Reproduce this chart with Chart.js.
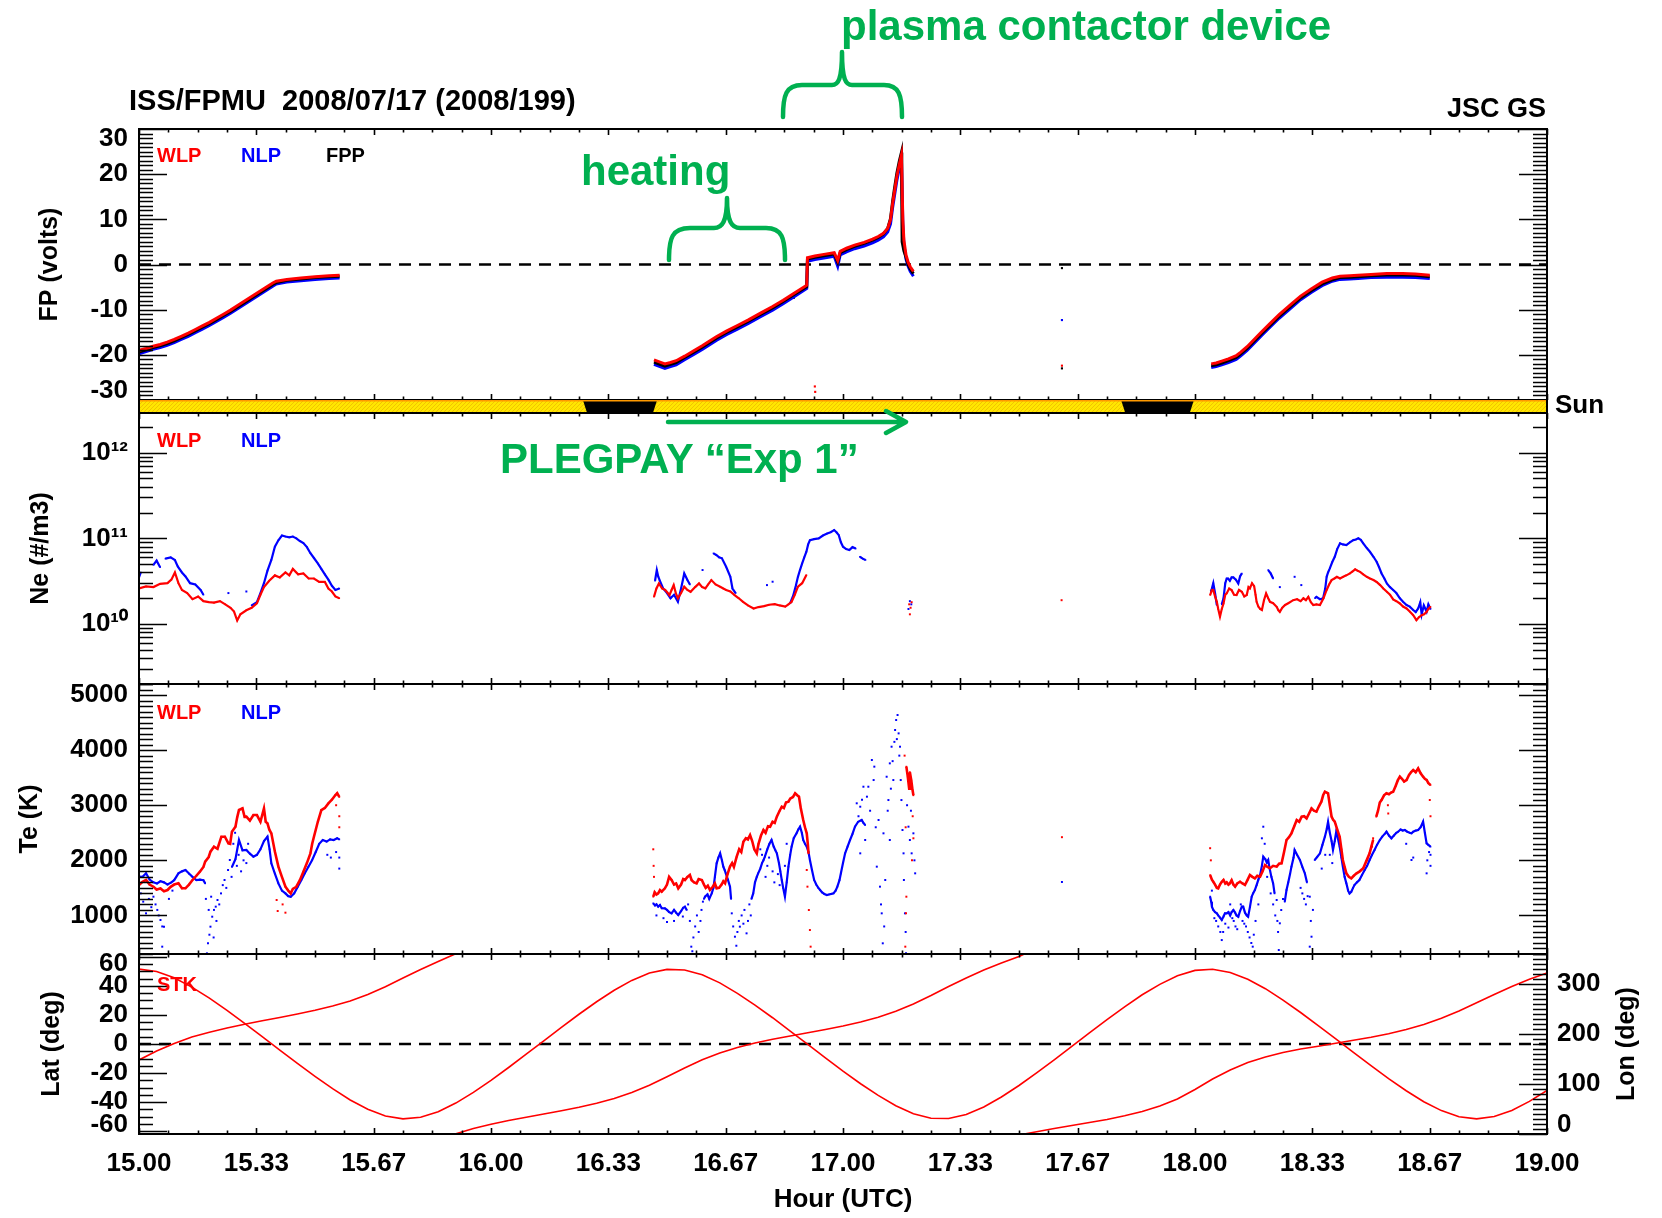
<!DOCTYPE html>
<html>
<head>
<meta charset="utf-8">
<title>ISS/FPMU 2008/07/17</title>
<script src="https://cdn.jsdelivr.net/npm/chart.js@4.4.0/dist/chart.umd.min.js"></script>
<style>
  html, body { margin: 0; padding: 0; background: #fff; }
  #page { position: relative; width: 1662px; height: 1218px; overflow: hidden; background: #fff; }
  #page canvas, #notes { position: absolute; left: 0; top: 0; }
</style>
</head>
<body>
<div id="page">
  <canvas id="fpChart" width="1662" height="1218"></canvas>
  <canvas id="neChart" width="1662" height="1218"></canvas>
  <canvas id="teChart" width="1662" height="1218"></canvas>
  <canvas id="posChart" width="1662" height="1218"></canvas>
  <svg id="notes" width="1662" height="1218" font-family="'Liberation Sans', Arial, Helvetica, sans-serif" font-weight="bold">
    <text x="129" y="110" font-size="29" fill="#000">ISS/FPMU&#160;&#160;2008/07/17 (2008/199)</text>
    <text x="1546" y="117" font-size="27" fill="#000" text-anchor="end">JSC GS</text>
    <text x="1555" y="413" font-size="26" fill="#000">Sun</text>
    <g fill="#00b050" font-size="42">
      <text x="841" y="40">plasma contactor device</text>
      <text x="581" y="185">heating</text>
      <text x="500" y="473">PLEGPAY “Exp 1”</text>
    </g>
    <g stroke="#00b050" stroke-width="4.5" fill="none" stroke-linecap="round" stroke-linejoin="round">
      <path d="M669,260 C669,238 672,228 690,228 L714,228 C722,228 727,222 727,198 C727,222 732,228 740,228 L766,228 C782,228 785,238 785,260"/>
      <path d="M783,117 C783,95 786,85 802,85 L832,85 C838,85 842,80 842,52 C842,80 846,85 852,85 L884,85 C899,85 902,95 902,117"/>
      <path d="M668,422 L904,422 M886,411 L906,422 L886,433"/>
    </g>
  </svg>
</div>
<script>
// ---- time axis ----
const hourTicks = [15, 15.3333, 15.6667, 16, 16.3333, 16.6667, 17, 17.3333, 17.6667, 18, 18.3333, 18.6667, 19];
const hourTickLabels = ['15.00', '15.33', '15.67', '16.00', '16.33', '16.67', '17.00', '17.33', '17.67', '18.00', '18.33', '18.67', '19.00'];

// ---- sunlight / eclipse (hours) ----
const eclipseStart = [16.261, 17.790];
const eclipseEnd = [16.472, 17.997];

// ---- floating potential (volts) ----
const fpTicks = [-30, -20, -10, 0, 10, 20, 30];
const fpTickLabels = ['-30', '-20', '-10', '0', '10', '20', '30'];

const fpWlp = [
  [15.00,-19.0],[15.02,-18.6],[15.04,-18.1],[15.06,-17.7],[15.08,-17.2],[15.10,-16.6],[15.12,-15.9],[15.14,-15.2],
  [15.16,-14.4],[15.18,-13.6],[15.20,-12.8],[15.22,-11.9],[15.24,-11.0],[15.26,-10.1],[15.28,-9.1],[15.30,-8.1],
  [15.32,-7.1],[15.34,-6.1],[15.36,-5.1],[15.38,-4.1],[15.39,-3.7],[15.42,-3.3],[15.46,-3.0],[15.50,-2.7],
  [15.54,-2.5],[15.57,-2.4],[15.8,null],
  [16.463,-21.1],[16.48,-21.6],[16.494,-22.0],[16.51,-21.7],[16.526,-21.3],[16.55,-20.3],[16.576,-19.1],[16.60,-18.0],
  [16.62,-17.0],[16.64,-16.0],[16.67,-14.7],[16.70,-13.5],[16.73,-12.3],[16.767,-10.7],[16.80,-9.3],[16.83,-7.9],
  [16.86,-6.4],[16.897,-4.6],[16.899,1.5],[16.92,1.9],[16.95,2.3],[16.975,2.6],[16.985,0.9],[16.992,2.9],
  [17.01,3.6],[17.033,4.3],[17.06,4.9],[17.084,5.6],[17.10,6.2],[17.115,6.9],[17.127,8.0],[17.135,9.9],
  [17.141,13.5],[17.147,16.5],[17.153,19.5],[17.160,22.2],[17.166,24.2],[17.170,10.0],[17.173,5.4],[17.179,2.1],
  [17.185,0.5],[17.191,-0.5],[17.200,-1.5],[17.5,null],
  [18.046,-22.0],[18.06,-21.8],[18.076,-21.4],[18.095,-20.9],[18.117,-20.2],[18.13,-19.4],[18.148,-18.2],[18.168,-16.6],
  [18.188,-15.0],[18.21,-13.3],[18.239,-11.1],[18.27,-9.0],[18.30,-7.0],[18.33,-5.4],[18.361,-3.9],[18.39,-3.0],
  [18.412,-2.6],[18.44,-2.5],[18.463,-2.4],[18.50,-2.2],[18.545,-2.0],[18.59,-2.0],[18.626,-2.1],[18.667,-2.4]
];
const fpNlp = [
  [15.00,-19.8],[15.02,-19.3],[15.04,-18.8],[15.06,-18.4],[15.08,-17.9],[15.10,-17.3],[15.12,-16.6],[15.14,-15.9],
  [15.16,-15.1],[15.18,-14.3],[15.20,-13.5],[15.22,-12.6],[15.24,-11.7],[15.26,-10.8],[15.28,-9.8],[15.30,-8.8],
  [15.32,-7.8],[15.34,-6.8],[15.36,-5.8],[15.38,-4.8],[15.39,-4.3],[15.42,-3.9],[15.46,-3.6],[15.50,-3.3],
  [15.54,-3.1],[15.57,-3.0],[15.8,null],
  [16.463,-22.1],[16.48,-22.6],[16.494,-23.0],[16.51,-22.6],[16.526,-22.2],[16.55,-21.1],[16.576,-19.9],[16.60,-18.8],
  [16.62,-17.8],[16.64,-16.8],[16.67,-15.5],[16.70,-14.3],[16.73,-13.1],[16.767,-11.5],[16.80,-10.1],[16.83,-8.7],
  [16.86,-7.2],[16.897,-5.3],[16.899,0.7],[16.92,1.1],[16.95,1.5],[16.975,1.8],[16.985,-0.4],[16.992,2.1],
  [17.01,2.8],[17.033,3.5],[17.06,4.1],[17.084,4.8],[17.10,5.4],[17.115,6.1],[17.127,7.2],[17.135,9.0],
  [17.141,12.6],[17.147,15.6],[17.153,18.6],[17.160,21.3],[17.166,23.4],[17.170,9.0],[17.173,4.5],[17.179,1.2],
  [17.185,-0.4],[17.191,-1.5],[17.200,-2.6],[17.5,null],
  [18.046,-22.8],[18.06,-22.6],[18.076,-22.2],[18.095,-21.7],[18.117,-21.0],[18.13,-20.2],[18.148,-19.0],[18.168,-17.4],
  [18.188,-15.8],[18.21,-14.1],[18.239,-11.9],[18.27,-9.8],[18.30,-7.8],[18.33,-6.2],[18.361,-4.7],[18.39,-3.7],
  [18.412,-3.3],[18.44,-3.2],[18.463,-3.1],[18.50,-2.9],[18.545,-2.8],[18.59,-2.8],[18.626,-2.9],[18.667,-3.1]
];
const fpFpp = [
  [15.00,-19.4],[15.02,-18.9],[15.04,-18.4],[15.06,-18.0],[15.08,-17.5],[15.10,-16.9],[15.12,-16.2],[15.14,-15.5],
  [15.16,-14.7],[15.18,-13.9],[15.20,-13.1],[15.22,-12.2],[15.24,-11.3],[15.26,-10.4],[15.28,-9.4],[15.30,-8.4],
  [15.32,-7.4],[15.34,-6.4],[15.36,-5.4],[15.38,-4.4],[15.39,-4.0],[15.42,-3.5],[15.46,-3.2],[15.50,-2.9],
  [15.54,-2.7],[15.57,-2.6],[15.8,null],
  [16.463,-21.6],[16.48,-22.1],[16.494,-22.5],[16.51,-22.1],[16.526,-21.7],[16.55,-20.6],[16.576,-19.4],[16.60,-18.3],
  [16.62,-17.3],[16.64,-16.3],[16.67,-15.0],[16.70,-13.8],[16.73,-12.6],[16.767,-11.0],[16.80,-9.6],[16.83,-8.2],
  [16.86,-6.7],[16.897,-4.9],[16.899,1.2],[16.92,1.6],[16.95,2.0],[16.975,2.3],[16.985,0.5],[16.992,2.6],
  [17.01,3.3],[17.033,4.0],[17.06,4.7],[17.084,5.4],[17.10,6.0],[17.115,6.8],[17.127,8.0],[17.135,10.2],
  [17.141,14.0],[17.147,17.2],[17.153,20.2],[17.160,22.9],[17.166,24.8],[17.167,15.0],[17.168,5.0],[17.173,3.0],
  [17.179,1.6],[17.185,0.0],[17.191,-1.0],[17.200,-2.0],[17.5,null],
  [18.046,-22.4],[18.06,-22.2],[18.076,-21.8],[18.095,-21.3],[18.117,-20.6],[18.13,-19.8],[18.148,-18.6],[18.168,-17.0],
  [18.188,-15.4],[18.21,-13.7],[18.239,-11.5],[18.27,-9.4],[18.30,-7.4],[18.33,-5.8],[18.361,-4.3],[18.39,-3.4],
  [18.412,-2.9],[18.44,-2.8],[18.463,-2.7],[18.50,-2.5],[18.545,-2.3],[18.59,-2.3],[18.626,-2.4],[18.667,-2.7]
];
const fpWlpStray = [[16.92,-27.0],[16.921,-28.2],[17.622,-22.4]];
const fpNlpStray = [[17.622,-12.3]];
const fpFppStray = [[17.622,-0.8],[17.622,-23.0],[16.86,-7.4]];

// ---- electron density (#/m3) ----
const neTicks = [1e10, 1e11, 1e12];
const neTickLabels = ['10¹⁰', '10¹¹', '10¹²'];

const neWlp = [
  [15.000,2.6e10],[15.020,2.75e10],[15.041,2.7e10],[15.060,2.95e10],[15.081,3.0e10],[15.092,3.3e10],[15.102,4.0e10],[15.112,3.0e10],
  [15.122,2.5e10],[15.137,2.3e10],[15.152,1.95e10],[15.168,2.1e10],[15.183,1.85e10],[15.198,1.8e10],[15.213,1.78e10],[15.230,1.85e10],
  [15.245,1.7e10],[15.260,1.55e10],[15.270,1.4e10],[15.279,1.1e10],[15.288,1.3e10],[15.305,1.45e10],[15.320,1.55e10],[15.335,1.75e10],
  [15.345,2.2e10],[15.355,2.7e10],[15.370,3.2e10],[15.386,3.7e10],[15.400,3.5e10],[15.416,4.0e10],[15.427,3.7e10],[15.437,4.4e10],
  [15.452,3.8e10],[15.467,3.9e10],[15.482,3.4e10],[15.497,3.4e10],[15.512,3.1e10],[15.528,3.1e10],[15.538,2.6e10],[15.548,2.4e10],
  [15.558,2.1e10],[15.569,2.0e10],[15.8,null],
  [16.463,2.08e10],[16.470,2.6e10],[16.477,2.98e10],[16.486,2.6e10],[16.495,2.5e10],[16.507,2.18e10],[16.513,2.5e10],[16.519,2.85e10],
  [16.525,2.3e10],[16.531,2.0e10],[16.540,2.3e10],[16.549,2.73e10],[16.558,2.5e10],[16.567,2.38e10],[16.580,2.7e10],[16.591,2.98e10],
  [16.600,2.7e10],[16.609,2.61e10],[16.617,2.9e10],[16.626,3.26e10],[16.638,2.9e10],[16.651,2.73e10],[16.660,2.6e10],[16.668,2.5e10],
  [16.680,2.4e10],[16.692,2.18e10],[16.704,2.0e10],[16.716,1.82e10],[16.730,1.65e10],[16.746,1.52e10],[16.760,1.58e10],[16.776,1.62e10],
  [16.790,1.68e10],[16.806,1.71e10],[16.820,1.65e10],[16.836,1.6e10],[16.845,1.7e10],[16.854,1.82e10],[16.863,2.2e10],[16.872,2.73e10],
  [16.884,3.0e10],[16.896,3.73e10],[17.5,null],
  [18.043,2.18e10],[18.048,2.5e10],[18.052,2.49e10],[18.057,2.1e10],[18.062,1.82e10],[18.066,1.5e10],[18.071,1.22e10],[18.076,1.5e10],
  [18.081,1.74e10],[18.086,2.2e10],[18.090,2.28e10],[18.097,2.6e10],[18.104,2.49e10],[18.111,2.2e10],[18.118,2.18e10],[18.125,2.5e10],
  [18.133,2.38e10],[18.140,2.1e10],[18.147,2.18e10],[18.152,2.7e10],[18.156,2.61e10],[18.162,3.0e10],[18.168,2.77e10],[18.172,2.2e10],
  [18.175,1.82e10],[18.180,1.6e10],[18.185,1.5e10],[18.190,1.46e10],[18.196,1.9e10],[18.202,2.28e10],[18.208,2.0e10],[18.213,1.82e10],
  [18.222,1.75e10],[18.232,1.59e10],[18.237,1.45e10],[18.241,1.39e10],[18.248,1.55e10],[18.256,1.67e10],[18.265,1.75e10],[18.279,1.9e10],
  [18.290,1.95e10],[18.300,1.85e10],[18.308,2.0e10],[18.315,1.9e10],[18.322,2.08e10],[18.329,1.8e10],[18.336,1.67e10],[18.345,1.7e10],
  [18.355,1.67e10],[18.365,2.0e10],[18.374,2.5e10],[18.381,2.9e10],[18.388,3.26e10],[18.396,3.4e10],[18.403,3.56e10],[18.412,3.4e10],
  [18.421,3.56e10],[18.430,3.7e10],[18.440,3.9e10],[18.447,4.1e10],[18.455,4.35e10],[18.462,4.2e10],[18.469,4.07e10],[18.478,3.8e10],
  [18.488,3.56e10],[18.497,3.4e10],[18.507,3.26e10],[18.516,3.1e10],[18.526,2.85e10],[18.535,2.6e10],[18.545,2.38e10],[18.554,2.2e10],
  [18.563,1.94e10],[18.572,1.85e10],[18.582,1.74e10],[18.591,1.6e10],[18.601,1.52e10],[18.610,1.4e10],[18.620,1.27e10],[18.629,1.11e10],
  [18.636,1.2e10],[18.644,1.27e10],[18.651,1.3e10],[18.658,1.39e10],[18.663,1.5e10],[18.669,1.59e10]
];
const neNlp = [
  [15.000,3.5e10],[15.005,4.0e10],[15.012,null],
  [15.041,4.9e10],[15.050,5.5e10],[15.060,4.6e10],[15.066,null],
  [15.075,5.8e10],[15.090,6.0e10],[15.102,5.6e10],[15.110,4.7e10],[15.122,4.0e10],[15.132,3.6e10],[15.145,3.0e10],[15.160,2.9e10],
  [15.175,2.5e10],[15.183,2.2e10],[15.19,null],
  [15.320,1.65e10],[15.335,1.8e10],[15.345,2.3e10],[15.355,3.0e10],[15.365,4.2e10],[15.376,5.6e10],[15.386,8.0e10],[15.396,9.5e10],
  [15.406,1.08e11],[15.416,1.05e11],[15.427,1.03e11],[15.437,1.05e11],[15.447,1.0e11],[15.457,9.3e10],[15.467,8.8e10],[15.477,7.9e10],
  [15.487,6.7e10],[15.497,5.9e10],[15.508,5.1e10],[15.518,4.4e10],[15.528,3.8e10],[15.538,3.3e10],[15.548,2.8e10],[15.558,2.5e10],
  [15.569,2.6e10],[15.8,null],
  [16.466,3.2e10],[16.471,4.27e10],[16.475,3.6e10],[16.479,3.26e10],[16.489,2.6e10],[16.500,2.3e10],[16.510,2.0e10],[16.520,2.2e10],
  [16.531,1.82e10],[16.540,2.6e10],[16.549,3.9e10],[16.558,3.26e10],[16.565,2.9e10],[16.57,null],
  [16.632,6.68e10],[16.640,6.4e10],[16.648,6.0e10],[16.656,5.85e10],[16.668,4.67e10],[16.680,3.56e10],[16.686,2.6e10],[16.695,2.3e10],[16.70,null],
  [16.850,1.75e10],[16.859,2.18e10],[16.866,2.8e10],[16.872,3.56e10],[16.878,4.3e10],[16.884,5.1e10],[16.890,6.0e10],[16.896,6.98e10],
  [16.901,8.5e10],[16.906,9.5e10],[16.918,9.8e10],[16.931,1.0e11],[16.943,1.08e11],[16.955,1.14e11],[16.965,1.18e11],[16.975,1.25e11],
  [16.982,1.17e11],[16.988,1.09e11],[16.994,9.0e10],[17.000,8.0e10],[17.009,7.5e10],[17.018,7.3e10],[17.027,7.9e10],[17.036,7.6e10],[17.042,null],
  [17.048,6.1e10],[17.056,5.8e10],[17.064,5.6e10],[17.5,null],
  [18.045,2.4e10],[18.048,2.6e10],[18.052,3.0e10],[18.057,2.3e10],[18.062,1.67e10],[18.066,null],
  [18.076,1.7e10],[18.081,2.0e10],[18.086,3.0e10],[18.090,3.4e10],[18.094,3.4e10],[18.099,3.2e10],[18.104,3.5e10],[18.109,3.5e10],
  [18.116,3.3e10],[18.123,2.98e10],[18.128,3.6e10],[18.133,3.9e10],[18.136,null],
  [18.208,4.27e10],[18.215,3.9e10],[18.222,3.4e10],[18.23,null],
  [18.341,2.0e10],[18.345,2.08e10],[18.355,1.95e10],[18.364,2.0e10],[18.370,2.6e10],[18.374,3.56e10],[18.378,4.0e10],[18.383,4.47e10],
  [18.390,5.3e10],[18.397,6.1e10],[18.404,7.5e10],[18.412,8.75e10],[18.420,8.5e10],[18.430,8.36e10],[18.440,9.0e10],[18.450,9.55e10],
  [18.457,9.7e10],[18.464,1.0e11],[18.471,9.6e10],[18.478,8.75e10],[18.488,7.7e10],[18.497,6.98e10],[18.507,6.1e10],[18.516,5.33e10],
  [18.523,4.6e10],[18.530,3.9e10],[18.538,3.4e10],[18.545,2.98e10],[18.554,2.7e10],[18.563,2.5e10],[18.572,2.3e10],[18.582,2.0e10],
  [18.591,1.82e10],[18.601,1.67e10],[18.610,1.6e10],[18.620,1.46e10],[18.627,1.38e10],[18.634,1.52e10],[18.640,1.8e10],[18.644,1.3e10],
  [18.650,1.65e10],[18.658,1.4e10],[18.663,1.7e10],[18.669,1.5e10]
];
const neWlpStray = [[17.188,1.7e10],[17.190,1.3e10],[17.192,1.55e10],[17.195,1.8e10],[17.621,1.9e10]];
const neNlpStray = [[15.254,2.3e10],[15.305,2.4e10],[16.601,4.27e10],[16.784,2.85e10],[16.800,3.12e10],[17.186,1.5e10],[17.190,1.85e10],
  [17.194,1.7e10],[18.241,2.7e10],[18.283,3.56e10],[18.302,2.85e10]];

// ---- electron temperature (K) ----
const teTicks = [1000, 2000, 3000, 4000, 5000];
const teTickLabels = ['1000', '2000', '3000', '4000', '5000'];

const teWlp = [
  [15.000,1552],[15.010,1610],[15.020,1643],[15.030,1560],[15.041,1521],[15.050,1470],[15.061,1490],[15.071,1440],[15.081,1461],
  [15.090,1520],[15.100,1560],[15.112,1582],[15.122,1492],[15.132,1492],[15.142,1560],[15.152,1643],[15.163,1720],[15.173,1794],
  [15.183,1880],[15.188,1976],[15.198,2060],[15.203,2157],[15.213,2248],[15.223,2210],[15.234,2429],[15.244,2429],[15.254,2308],
  [15.259,2300],[15.264,2520],[15.274,2611],[15.279,2780],[15.284,2913],[15.294,2943],[15.300,2790],[15.305,2792],[15.315,2720],
  [15.325,2822],[15.335,2822],[15.345,2700],[15.355,2943],[15.360,2700],[15.365,2671],[15.370,2560],[15.376,2490],[15.386,2160],
  [15.396,1885],[15.406,1700],[15.416,1521],[15.424,1450],[15.431,1401],[15.437,1480],[15.447,1521],[15.457,1640],[15.467,1794],
  [15.477,1950],[15.487,2127],[15.492,2300],[15.497,2429],[15.508,2700],[15.518,2913],[15.528,2950],[15.538,3034],[15.548,3100],
  [15.558,3185],[15.563,3220],[15.569,3150],[15.8,null],
  [16.461,1340],[16.465,1420],[16.470,1380],[16.475,1400],[16.480,1460],[16.485,1430],[16.494,1492],[16.500,1560],[16.506,1700],
  [16.513,1643],[16.520,1560],[16.526,1580],[16.532,1492],[16.540,1560],[16.546,1660],[16.551,1643],[16.558,1700],[16.565,1734],
  [16.570,1640],[16.577,1600],[16.584,1583],[16.590,1660],[16.599,1643],[16.605,1560],[16.610,1500],[16.616,1540],[16.622,1461],
  [16.630,1520],[16.636,1580],[16.641,1492],[16.648,1500],[16.655,1560],[16.660,1620],[16.665,1583],[16.672,1750],[16.679,1885],
  [16.685,1950],[16.690,1880],[16.698,2066],[16.705,2200],[16.711,2150],[16.717,2338],[16.724,2400],[16.730,2380],[16.736,2459],
  [16.742,2350],[16.748,2200],[16.755,2127],[16.760,2300],[16.767,2450],[16.774,2550],[16.780,2500],[16.787,2620],[16.793,2611],
  [16.800,2700],[16.806,2680],[16.812,2792],[16.820,2900],[16.826,2973],[16.832,2950],[16.838,3050],[16.845,3064],[16.850,3120],
  [16.858,3150],[16.864,3216],[16.870,3180],[16.875,3155],[16.880,2950],[16.887,2732],[16.892,2600],[16.897,2490],[16.900,2300],
  [16.902,2127],[16.95,null],
  [17.180,3700],[17.184,3520],[17.188,3300],[17.190,3600],[17.194,3450],[17.197,3300],[17.200,3180],[17.5,null],
  [18.043,1734],[18.048,1650],[18.052,1612],[18.057,1560],[18.062,1500],[18.066,1492],[18.071,1560],[18.076,1610],[18.081,1643],
  [18.086,1580],[18.090,1600],[18.095,1560],[18.099,1582],[18.104,1640],[18.109,1560],[18.114,1522],[18.120,1580],[18.128,1612],
  [18.135,1580],[18.142,1552],[18.149,1640],[18.156,1734],[18.163,1700],[18.170,1673],[18.177,1720],[18.185,1703],[18.192,1800],
  [18.199,1915],[18.206,1880],[18.213,1855],[18.222,1900],[18.232,1885],[18.239,1940],[18.246,1945],[18.253,2150],[18.260,2369],
  [18.267,2420],[18.274,2490],[18.282,2620],[18.289,2732],[18.296,2700],[18.303,2792],[18.310,2800],[18.317,2762],[18.324,2850],
  [18.331,2943],[18.338,2900],[18.345,2883],[18.352,2980],[18.359,3064],[18.364,3180],[18.369,3246],[18.374,3230],[18.378,3216],
  [18.383,3000],[18.388,2792],[18.392,2740],[18.397,2701],[18.404,2560],[18.411,2429],[18.416,2200],[18.420,2006],[18.425,1880],
  [18.430,1764],[18.437,1700],[18.444,1673],[18.451,1720],[18.459,1764],[18.468,1800],[18.478,1855],[18.487,1990],[18.496,2127],
  [18.501,2250],[18.506,2369],[18.510,null],
  [18.515,2792],[18.520,2900],[18.525,3050],[18.530,3095],[18.537,3180],[18.544,3216],[18.551,3200],[18.557,3230],[18.563,3246],
  [18.570,3350],[18.576,3450],[18.582,3518],[18.588,3480],[18.594,3430],[18.601,3458],[18.608,3550],[18.614,3600],[18.620,3639],
  [18.627,3600],[18.634,3670],[18.641,3580],[18.648,3518],[18.653,3480],[18.658,3458],[18.663,3400],[18.669,3367]
];
const teNlp = [
  [15.000,1703],[15.010,1700],[15.020,1764],[15.030,1650],[15.041,1600],[15.051,1580],[15.061,1620],[15.071,1600],[15.081,1560],
  [15.092,1600],[15.100,1640],[15.112,1764],[15.122,1800],[15.132,1824],[15.142,1760],[15.152,1700],[15.163,1643],[15.173,1650],
  [15.183,1640],[15.188,1582],[15.193,null],
  [15.264,1880],[15.274,2020],[15.284,2369],[15.294,2180],[15.305,2187],[15.315,2120],[15.325,2066],[15.335,2100],[15.345,2200],
  [15.355,2350],[15.365,2429],[15.371,2200],[15.376,1945],[15.386,1760],[15.396,1582],[15.406,1450],[15.416,1400],[15.424,1350],
  [15.431,1340],[15.441,1400],[15.451,1521],[15.461,1640],[15.471,1764],[15.481,1880],[15.492,2006],[15.502,2150],[15.512,2300],
  [15.522,2369],[15.533,2340],[15.543,2380],[15.553,2369],[15.563,2400],[15.569,2380],[15.8,null],
  [16.461,1219],[16.466,1180],[16.470,1200],[16.475,1159],[16.480,1190],[16.485,1130],[16.494,1129],[16.500,1100],[16.506,1060],
  [16.513,1038],[16.520,1100],[16.526,1050],[16.532,1008],[16.540,1080],[16.546,1140],[16.551,1159],[16.556,1100],[16.56,null],
  [16.605,1300],[16.608,1340],[16.615,1380],[16.620,1300],[16.627,1400],[16.632,1500],[16.636,1700],[16.641,1945],[16.646,2050],
  [16.651,2127],[16.656,2000],[16.660,1885],[16.664,1820],[16.667,1764],[16.673,1650],[16.679,1522],[16.682,1300],[16.684,null],
  [16.740,1300],[16.745,1400],[16.750,1600],[16.755,1700],[16.759,1764],[16.765,1850],[16.770,1950],[16.774,2000],[16.778,2066],
  [16.785,2200],[16.791,2300],[16.797,2369],[16.803,2250],[16.808,2180],[16.812,2127],[16.818,1950],[16.822,1800],[16.826,1643],
  [16.830,1500],[16.835,1340],[16.840,1600],[16.845,1885],[16.850,2100],[16.854,2248],[16.860,2400],[16.868,2490],[16.873,2560],
  [16.878,2611],[16.883,2500],[16.887,2369],[16.892,2300],[16.897,2248],[16.902,2150],[16.906,2006],[16.912,1820],[16.918,1643],
  [16.924,1560],[16.930,1500],[16.935,1461],[16.940,1420],[16.947,1390],[16.954,1370],[16.960,1380],[16.967,1390],[16.973,1400],
  [16.979,1450],[16.984,1522],[16.990,1640],[16.994,1764],[17.000,1950],[17.006,2127],[17.013,2250],[17.020,2369],[17.027,2480],
  [17.034,2611],[17.043,2700],[17.053,2732],[17.058,2680],[17.063,2641],[17.068,null],
  [18.043,1340],[18.046,1250],[18.048,1159],[18.052,1100],[18.057,1060],[18.062,1038],[18.066,1000],[18.071,960],[18.076,917],
  [18.081,980],[18.085,1038],[18.090,1038],[18.095,1060],[18.100,1000],[18.104,1060],[18.109,1098],[18.114,1050],[18.118,1000],
  [18.123,977],[18.128,1080],[18.133,1159],[18.137,1159],[18.142,1050],[18.147,1000],[18.151,977],[18.156,1150],[18.161,1340],
  [18.165,1400],[18.170,1461],[18.175,1550],[18.180,1650],[18.185,1734],[18.190,1900],[18.194,2066],[18.200,2020],[18.204,1960],
  [18.208,2006],[18.212,1850],[18.217,1700],[18.222,1582],[18.226,1400],[18.23,null],
  [18.255,1250],[18.260,1461],[18.265,1600],[18.270,1750],[18.274,1885],[18.280,2050],[18.283,2187],[18.290,2100],[18.298,2006],
  [18.305,1880],[18.312,1764],[18.318,1600],[18.32,null],
  [18.340,2006],[18.347,2060],[18.355,2127],[18.362,2280],[18.369,2429],[18.374,2560],[18.378,2701],[18.383,2500],[18.388,2350],
  [18.392,2187],[18.397,2350],[18.402,2550],[18.406,2400],[18.411,2248],[18.416,2050],[18.420,1885],[18.425,1700],[18.430,1582],
  [18.435,1450],[18.439,1400],[18.444,1430],[18.449,1500],[18.453,1552],[18.460,1600],[18.467,1643],[18.474,1730],[18.482,1824],
  [18.489,1900],[18.496,2006],[18.503,2100],[18.510,2187],[18.517,2280],[18.525,2369],[18.532,2430],[18.539,2480],[18.544,2519],
  [18.551,2450],[18.558,2399],[18.565,2450],[18.572,2500],[18.577,2519],[18.584,2560],[18.590,2540],[18.596,2550],[18.603,2520],
  [18.610,2500],[18.615,2490],[18.620,2520],[18.627,2540],[18.634,2550],[18.641,2600],[18.648,2701],[18.653,2500],[18.658,2308],
  [18.663,2280],[18.669,2248]
];
const teWlpStray = [
  [15.391,1280],[15.394,1080],[15.408,1200],[15.416,1050],[15.560,3000],[15.569,2800],[15.569,2600],
  [16.461,2200],[16.462,1900],[16.463,1700],[16.897,1825],[16.899,1522],[16.903,1098],[16.906,735],[16.908,433],
  [17.175,3900],[17.178,2600],[17.180,1340],[17.179,1038],[17.177,433],[17.198,2800],[17.200,2400],[17.196,2000],
  [17.622,2420],[18.043,2220],[18.045,2000],[18.506,2400],[18.503,2250],[18.548,3000],[18.549,2850],[18.667,3095],[18.669,2800]
];
const teNlpStray = [
  [15.005,1400],[15.012,1250],[15.020,1038],[15.028,1300],[15.035,1150],[15.041,1340],[15.047,1200],[15.052,1100],[15.056,1000],
  [15.061,917],[15.066,800],[15.071,796],[15.066,433],[15.085,1300],[15.095,1450],
  [15.190,1300],[15.193,312],[15.196,494],[15.200,650],[15.203,796],[15.208,977],[15.213,1100],[15.218,1159],[15.223,1280],
  [15.228,1200],[15.233,1400],[15.238,1550],[15.243,1643],[15.248,1500],[15.253,1824],[15.258,2006],[15.263,1700],[15.268,2300],
  [15.273,2500],[15.278,1900],[15.283,2100],[15.290,1800],[15.297,2000],[15.305,1950],[15.310,2300],[15.198,1100],[15.205,1340],
  [15.212,600],[15.220,900],[15.535,2100],[15.545,2050],[15.560,2150],[15.569,1850],[15.569,2050],
  [16.470,1000],[16.490,950],[16.500,880],[16.520,900],[16.545,980],[16.560,1200],[16.565,900],[16.569,433],[16.572,350],
  [16.575,600],[16.580,800],[16.585,1000],[16.590,700],[16.595,900],[16.598,1100],[16.602,1250],
  [16.684,1038],[16.688,800],[16.693,614],[16.697,450],[16.700,700],[16.704,900],[16.707,796],[16.712,1000],[16.717,850],
  [16.720,1100],[16.726,675],[16.730,900],[16.734,1200],[16.738,1000],
  [16.765,2200],[16.770,2100],[16.780,1700],[16.785,1900],[16.790,2050],[16.800,1800],[16.805,1600],[16.815,1750],[16.820,1550],
  [16.835,1900],[16.840,2300],
  [17.039,3035],[17.044,2800],[17.049,2973],[17.049,2127],[17.054,3100],[17.058,3336],[17.063,2369],[17.068,3155],[17.072,3336],
  [17.077,2900],[17.082,3821],[17.087,3457],[17.089,3700],[17.093,2600],[17.096,1885],[17.101,2732],[17.105,1522],[17.108,1200],
  [17.110,1038],[17.113,494],[17.115,2490],[17.117,800],[17.120,1643],[17.124,3517],[17.127,2900],[17.129,3094],[17.133,3760],
  [17.133,2369],[17.136,3300],[17.138,4062],[17.141,3800],[17.143,3457],[17.146,4150],[17.148,4365],[17.151,4546],[17.153,4200],
  [17.155,4637],[17.158,4304],[17.160,3900],[17.162,4062],[17.164,3457],[17.166,3094],[17.169,2550],[17.172,2127],[17.173,1643],
  [17.176,1038],[17.178,700],[17.179,312],[17.182,3000],[17.186,2611],[17.190,2369],[17.193,2900],[17.195,2127],[17.200,2490],
  [17.203,2000],[17.205,1764],[17.622,1607],
  [18.048,1450],[18.055,950],[18.060,900],[18.066,800],[18.072,700],[18.076,553],[18.080,700],[18.086,850],[18.095,780],
  [18.100,1200],[18.106,950],[18.110,900],[18.115,800],[18.120,750],[18.130,1200],[18.135,900],[18.140,850],[18.145,800],
  [18.150,700],[18.155,600],[18.160,500],[18.164,433],[18.167,650],[18.172,900],[18.180,1200],[18.190,2400],[18.194,2610],
  [18.198,2300],[18.205,1700],[18.215,1400],[18.222,1200],[18.228,1000],[18.232,1280],[18.234,900],[18.236,700],[18.238,372],
  [18.241,857],[18.245,1098],[18.250,1300],
  [18.300,1500],[18.305,1400],[18.310,1300],[18.315,1200],[18.320,1350],[18.326,1340],[18.326,433],[18.329,900],[18.331,614],
  [18.335,1100],[18.360,1850],[18.370,2100],[18.383,2100],[18.390,1950],
  [18.600,2300],[18.615,2006],[18.620,2050],[18.658,1764],[18.660,2000],[18.665,2150],[18.669,1900],[18.669,2100]
];

// ---- ISS ground track (STK) ----
const latTicks = [-60, -40, -20, 0, 20, 40, 60];
const latTickLabels = ['-60', '-40', '-20', '0', '20', '40', '60'];
const lonTicks = [0, 100, 200, 300];
const lonTickLabels = ['0', '100', '200', '300'];

const latStk = [
  [15.00,51.6],[15.05,49.9],[15.10,45.6],[15.15,39.2],[15.20,31.6],[15.25,23.2],[15.30,14.2],[15.35,5.1],[15.40,-4.2],
  [15.45,-13.4],[15.50,-22.3],[15.55,-30.8],[15.60,-38.6],[15.65,-45.0],[15.70,-49.6],[15.75,-51.6],[15.80,-50.5],[15.85,-46.7],
  [15.90,-40.7],[15.95,-33.3],[16.00,-25.0],[16.05,-16.2],[16.10,-7.0],[16.15,2.2],[16.20,11.5],[16.25,20.5],[16.30,29.1],
  [16.35,37.0],[16.40,43.8],[16.45,48.9],[16.50,51.4],[16.55,51.0],[16.60,47.7],[16.65,42.1],[16.70,34.9],[16.75,26.8],
  [16.80,18.1],[16.85,8.9],[16.90,-0.3],[16.95,-9.5],[17.00,-18.7],[17.05,-27.4],[17.10,-35.4],[17.15,-42.5],[17.20,-48.0],
  [17.25,-51.1],[17.30,-51.3],[17.35,-48.6],[17.40,-43.4],[17.45,-36.5],[17.50,-28.6],[17.55,-19.9],[17.60,-10.9],[17.65,-1.6],
  [17.70,7.7],[17.75,16.8],[17.80,25.6],[17.85,33.9],[17.90,41.1],[17.95,47.0],[18.00,50.7],[18.05,51.5],[18.10,49.3],
  [18.15,44.6],[18.20,38.1],[18.25,30.2],[18.30,21.7],[18.35,12.7],[18.40,3.5],[18.45,-5.7],[18.50,-14.9],[18.55,-23.8],
  [18.60,-32.2],[18.65,-39.8],[18.70,-45.9],[18.75,-50.1],[18.80,-51.6],[18.85,-50.0],[18.90,-45.8],[18.95,-39.5],[19.00,-32.0]
];
const lonStk = [
  [15.00,148],[15.05,166],[15.10,181],[15.15,194],[15.20,203.5],[15.25,212],[15.30,219.5],[15.35,226.5],[15.40,233],
  [15.45,240],[15.50,247.5],[15.55,256],[15.60,266],[15.65,279],[15.70,294.5],[15.75,312],[15.80,329],[15.85,345],
  [15.898,360],[15.899,null],
  [15.898,0],[15.95,11],[16.00,19.5],[16.05,27],[16.10,33.5],[16.15,40],[16.20,46.5],[16.25,53.5],[16.30,61.5],
  [16.35,71],[16.40,83],[16.45,97.5],[16.50,114.5],[16.55,132],[16.60,148.5],[16.65,162],[16.70,173],[16.75,182],
  [16.80,189.5],[16.85,196],[16.90,202.5],[16.95,209],[17.00,216],[17.05,224],[17.10,233.5],[17.15,245.5],[17.20,260],
  [17.25,277],[17.30,295],[17.35,312],[17.40,328],[17.45,342],[17.50,355],[17.515,360],[17.516,null],
  [17.515,0],[17.55,4.5],[17.60,11],[17.65,17],[17.70,23],[17.75,29],[17.80,36.5],[17.85,45],[17.90,56],[17.95,70],
  [18.00,89],[18.05,110],[18.10,128],[18.15,143],[18.20,154],[18.25,163],[18.30,170],[18.35,175.5],[18.40,181.5],
  [18.45,187.5],[18.50,193.5],[18.55,200.5],[18.60,209],[18.65,219],[18.70,231.5],[18.75,246],[18.80,262.5],[18.85,279],
  [18.90,295],[18.95,309.5],[19.00,322]
];

// ---------------------------------------------------------------------------
const FONT = '"Liberation Sans", Arial, Helvetica, sans-serif';
const RED = '#ff0000', BLUE = '#0000ff', BLACK = '#000000';
Chart.defaults.font.family = FONT;
Chart.defaults.color = '#000';

const tickFont = {family: FONT, size: 26, weight: 'bold'};
const titleFont = {family: FONT, size: 25, weight: 'bold'};

const pts = pairs => pairs.map(([x, y]) => ({x, y}));

function trace(label, pairs, color, width, dot, yAxisID) {
  return {
    label, data: pts(pairs), showLine: true, spanGaps: false, tension: 0,
    borderColor: color, backgroundColor: color, borderWidth: width,
    pointRadius: dot, pointStyle: 'rect', pointBorderWidth: 0, pointHoverRadius: 0,
    yAxisID: yAxisID || 'y'
  };
}
function speckle(label, pairs, color, r) {
  return {
    label, data: pts(pairs), showLine: false, backgroundColor: color, borderColor: color,
    pointRadius: r, pointStyle: 'rect', pointBorderWidth: 0, pointHoverRadius: 0
  };
}
function zeroLine() {
  return {
    label: 'zero', data: [{x: 15, y: 0}, {x: 19, y: 0}], showLine: true,
    borderColor: BLACK, borderWidth: 2.5, borderDash: [12, 8], pointRadius: 0
  };
}

// tick list helpers for the inward tick marks
function linearMarks(lo, hi, step, every) {
  const out = [];
  for (let k = Math.round(lo / step); k * step <= hi + 1e-9; k++) {
    out.push({v: k * step, major: k % every === 0});
  }
  return out;
}
function logMarks(lo, hi) {
  const out = [];
  for (let d = Math.floor(Math.log10(lo)); d <= Math.ceil(Math.log10(hi)); d++) {
    for (let m = 1; m <= 9; m++) {
      const v = m * Math.pow(10, d);
      if (v >= lo && v <= hi) out.push({v, major: m === 1});
    }
  }
  return out;
}

// box with IDL-style inward ticks on all four sides
const idlFrame = {
  id: 'idlFrame',
  afterDatasetsDraw(chart, args, o) {
    const {ctx, chartArea: a} = chart;
    const xs = chart.scales.x;
    ctx.save();
    ctx.strokeStyle = '#000';
    ctx.lineWidth = 1.6;
    ctx.beginPath();
    for (let k = 0; k <= 48; k++) {
      const px = Math.round(xs.getPixelForValue(15 + k / 12)) + 0.5;
      const len = k % 4 === 0 ? 6 : 3.5;
      ctx.moveTo(px, a.top); ctx.lineTo(px, a.top + len);
      ctx.moveTo(px, a.bottom); ctx.lineTo(px, a.bottom - len);
    }
    (o.sides || []).forEach(side => {
      const s = chart.scales[side.scale];
      const edge = side.right ? a.right : a.left;
      const dir = side.right ? -1 : 1;
      side.marks.forEach(m => {
        const py = Math.round(s.getPixelForValue(m.v)) + 0.5;
        const len = m.major ? 28 : 14;
        ctx.moveTo(edge, py); ctx.lineTo(edge + dir * len, py);
      });
    });
    ctx.stroke();
    ctx.lineWidth = 2;
    ctx.strokeRect(a.left, a.top, a.right - a.left, a.bottom - a.top);
    ctx.restore();
  }
};

// coloured instrument tags in the upper-left corner, plus an optional right-hand title
const panelTags = {
  id: 'panelTags',
  afterDraw(chart, args, o) {
    const {ctx, chartArea: a} = chart;
    ctx.save();
    ctx.font = 'bold 20px ' + FONT;
    ctx.textBaseline = 'middle';
    (o.items || []).forEach(it => {
      ctx.fillStyle = it.color;
      ctx.fillText(it.text, a.left + it.dx, a.top + o.dy);
    });
    if (o.rightTitle) {
      ctx.font = 'bold 25px ' + FONT;
      ctx.fillStyle = '#000';
      ctx.textAlign = 'center';
      ctx.translate(o.rightTitle.x, (a.top + a.bottom) / 2);
      ctx.rotate(-Math.PI / 2);
      ctx.fillText(o.rightTitle.text, 0, 0);
    }
    ctx.restore();
  }
};

// sunlight bar under the FP panel, black where the station is in eclipse
function sunPattern() {
  const c = document.createElement('canvas');
  c.width = 4; c.height = 4;
  const g = c.getContext('2d');
  g.fillStyle = '#ffe600';
  g.fillRect(0, 0, 4, 4);
  g.fillStyle = '#f2c200';
  for (let i = 0; i < 4; i++) g.fillRect(i, 3 - i, 1, 1);
  return g.createPattern(c, 'repeat');
}
const sunStrip = {
  id: 'sunStrip',
  afterDraw(chart, args, o) {
    const {ctx, chartArea: a} = chart;
    const xs = chart.scales.x;
    const top = a.bottom, bot = a.bottom + o.height;
    ctx.save();
    ctx.fillStyle = sunPattern();
    ctx.fillRect(a.left, top, a.right - a.left, o.height);
    ctx.fillStyle = '#000';
    o.starts.forEach((t0, i) => {
      const t1 = o.ends[i];
      ctx.beginPath();
      ctx.moveTo(xs.getPixelForValue(t0), top);
      ctx.lineTo(xs.getPixelForValue(t1), top);
      ctx.lineTo(xs.getPixelForValue(t1 - o.penumbra), bot);
      ctx.lineTo(xs.getPixelForValue(t0 + o.penumbra), bot);
      ctx.closePath();
      ctx.fill();
    });
    ctx.strokeStyle = '#ff9a00';
    ctx.lineWidth = 1.5;
    ctx.beginPath();
    ctx.moveTo(a.left, top + 0.75); ctx.lineTo(a.right, top + 0.75);
    ctx.stroke();
    ctx.strokeStyle = '#000';
    ctx.lineWidth = 2;
    ctx.beginPath();
    ctx.moveTo(a.left, top); ctx.lineTo(a.left, bot);
    ctx.moveTo(a.right, top); ctx.lineTo(a.right, bot);
    ctx.stroke();
    ctx.restore();
  }
};

function hourAxis(show) {
  return {
    type: 'linear', min: 15, max: 19, display: show,
    afterBuildTicks: s => { s.ticks = hourTicks.map(v => ({value: v})); },
    afterFit: s => { s.height = show ? 84 : 0; },
    grid: {display: false, drawTicks: false}, border: {display: false},
    ticks: {autoSkip: false, maxRotation: 0, minRotation: 0, padding: 14, font: tickFont, color: '#000',
      callback: (v, i) => hourTickLabels[i]},
    title: {display: show, text: 'Hour (UTC)', font: {family: FONT, size: 26, weight: 'bold'}, color: '#000',
      padding: {top: 0, bottom: 3}}
  };
}
// value axis; labels at the very ends are kept inside the box, IDL style
function valueAxis(cfg) {
  return {
    type: cfg.type || 'linear', position: cfg.position || 'left', min: cfg.min, max: cfg.max,
    afterBuildTicks: s => { s.ticks = cfg.ticks.map(v => ({value: v})); },
    afterFit: s => { s.width = cfg.width; },
    afterUpdate: s => {
      const base = Object.getPrototypeOf(s).getPixelForTick;
      s.getPixelForTick = function (i) {
        return Math.min(Math.max(base.call(this, i), this.top + 10), this.bottom - 9);
      };
    },
    grid: {display: false, drawTicks: false}, border: {display: false},
    ticks: {autoSkip: false, padding: cfg.pad, font: tickFont, color: '#000', callback: (v, i) => cfg.labels[i]},
    title: {display: !!cfg.title, text: cfg.title, font: titleFont, color: '#000', padding: {top: cfg.titlePad || 0, bottom: 0}}
  };
}
function panel(id, box, scales, datasets, plugins, pluginOpts) {
  return new Chart(document.getElementById(id), {
    type: 'scatter',
    data: {datasets},
    plugins,
    options: {
      responsive: false, animation: false, devicePixelRatio: 1, events: [],
      layout: {padding: {left: 0, right: box.right, top: box.top, bottom: box.bottom}},
      scales,
      plugins: Object.assign({legend: {display: false}, tooltip: {enabled: false}}, pluginOpts)
    }
  });
}

// FP panel
panel('fpChart', {top: 129, bottom: 818, right: 115}, {
  x: hourAxis(false),
  y: valueAxis({min: -30, max: 30, ticks: fpTicks, labels: fpTickLabels, width: 139, pad: 11, title: 'FP (volts)', titlePad: 35})
}, [
  trace('WLP', fpWlp, RED, 3, 0),
  trace('FPP', fpFpp, BLACK, 3, 0),
  trace('NLP', fpNlp, BLUE, 3, 0),
  speckle('WLP', fpWlpStray, RED, 1.5),
  speckle('FPP', fpFppStray, BLACK, 1.5),
  speckle('NLP', fpNlpStray, BLUE, 1.5),
  zeroLine()
], [idlFrame, panelTags, sunStrip], {
  idlFrame: {sides: [{scale: 'y', marks: linearMarks(-30, 30, 1, 10)}, {scale: 'y', right: true, marks: linearMarks(-30, 30, 1, 10)}]},
  panelTags: {dy: 27, items: [{text: 'WLP', color: RED, dx: 18}, {text: 'NLP', color: BLUE, dx: 102}, {text: 'FPP', color: BLACK, dx: 187}]},
  sunStrip: {height: 13, starts: eclipseStart, ends: eclipseEnd, penumbra: 0.012}
});

// Ne panel
panel('neChart', {top: 413, bottom: 534, right: 115}, {
  x: hourAxis(false),
  y: valueAxis({type: 'logarithmic', min: 2e9, max: 2.9e12, ticks: neTicks, labels: neTickLabels, width: 139, pad: 11, title: 'Ne (#/m3)', titlePad: 26})
}, [
  trace('WLP', neWlp, RED, 2.2, 1.1),
  trace('NLP', neNlp, BLUE, 2.2, 1.1),
  speckle('WLP', neWlpStray, RED, 1.4),
  speckle('NLP', neNlpStray, BLUE, 1.4)
], [idlFrame, panelTags], {
  idlFrame: {sides: [{scale: 'y', marks: logMarks(2e9, 2.9e12)}, {scale: 'y', right: true, marks: logMarks(2e9, 2.9e12)}]},
  panelTags: {dy: 28, items: [{text: 'WLP', color: RED, dx: 18}, {text: 'NLP', color: BLUE, dx: 102}]}
});

// Te panel
panel('teChart', {top: 684, bottom: 264, right: 115}, {
  x: hourAxis(false),
  y: valueAxis({min: 300, max: 5200, ticks: teTicks, labels: teTickLabels, width: 139, pad: 11, title: 'Te (K)', titlePad: 15})
}, [
  trace('WLP', teWlp, RED, 2.6, 1.2),
  trace('NLP', teNlp, BLUE, 2.2, 1.2),
  speckle('WLP', teWlpStray, RED, 1.4),
  speckle('NLP', teNlpStray, BLUE, 1.4)
], [idlFrame, panelTags], {
  idlFrame: {sides: [{scale: 'y', marks: linearMarks(300, 5200, 100, 10)}, {scale: 'y', right: true, marks: linearMarks(300, 5200, 100, 10)}]},
  panelTags: {dy: 29, items: [{text: 'WLP', color: RED, dx: 18}, {text: 'NLP', color: BLUE, dx: 102}]}
});

// latitude / longitude panel
panel('posChart', {top: 954, bottom: 0, right: 0}, {
  x: hourAxis(true),
  y: valueAxis({min: -62, max: 62, ticks: latTicks, labels: latTickLabels, width: 139, pad: 11, title: 'Lat (deg)', titlePad: 37}),
  lon: valueAxis({position: 'right', min: 0, max: 360, ticks: lonTicks, labels: lonTickLabels, width: 115, pad: 10})
}, [
  trace('STK lat', latStk, RED, 1.6, 0),
  trace('STK lon', lonStk, RED, 1.6, 0, 'lon'),
  zeroLine()
], [idlFrame, panelTags], {
  idlFrame: {sides: [{scale: 'y', marks: linearMarks(-60, 60, 5, 4)}, {scale: 'lon', right: true, marks: linearMarks(0, 360, 10, 10)}]},
  panelTags: {dy: 31, items: [{text: 'STK', color: RED, dx: 18}], rightTitle: {text: 'Lon (deg)', x: 1627}}
});
</script>
</body>
</html>
